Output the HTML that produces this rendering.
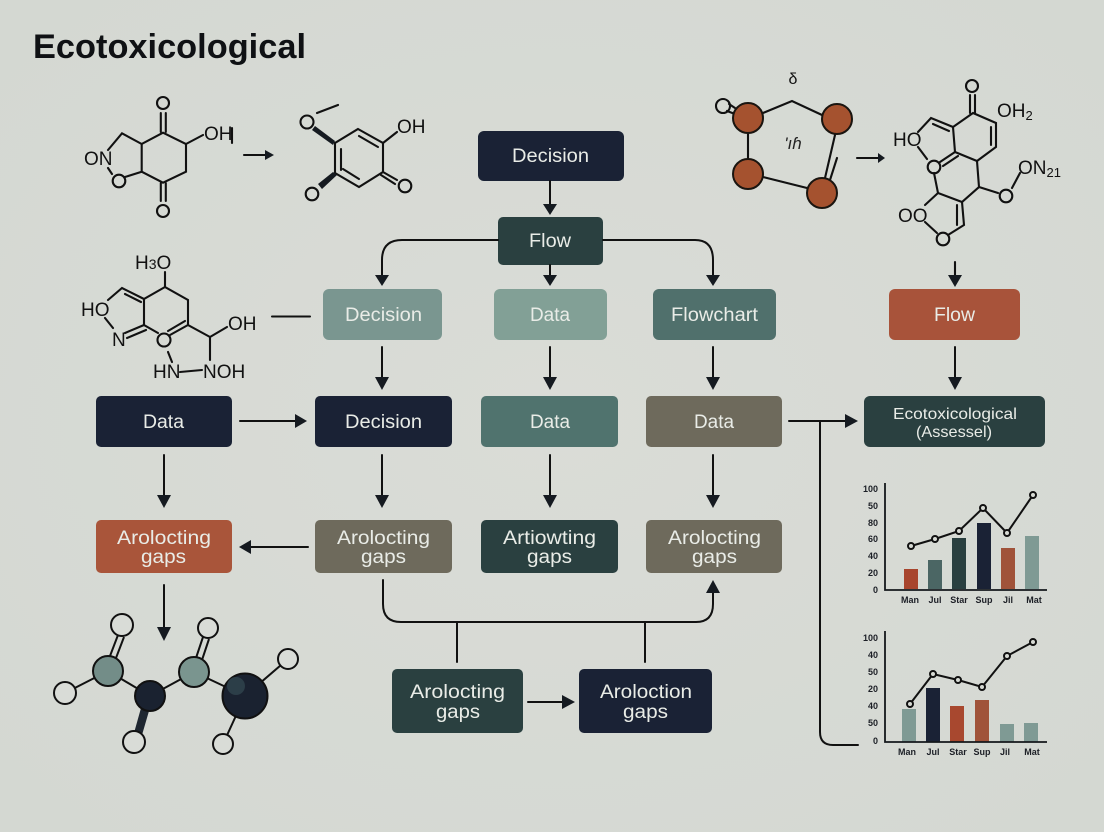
<!DOCTYPE html>
<html><head><meta charset="utf-8"><style>
html,body{margin:0;padding:0;background:#d7dad4}
svg{display:block}
text{font-family:"Liberation Sans",sans-serif}
.b{fill:#e9ece7;font-size:19px;text-anchor:middle}
.c{fill:#111;font-size:19px}
.l{stroke:#111;stroke-width:2;fill:none;stroke-linecap:round}
.m{stroke:#111;stroke-width:2.1;fill:none;stroke-linecap:round}
.k{fill:#151a20;stroke:none}
.ax{fill:#1c1f26;font-size:9px;font-weight:bold;text-anchor:end}
.ay{fill:#1c1f26;font-size:9px;font-weight:bold;text-anchor:middle}
.pt{fill:#d7dad4;stroke:#111;stroke-width:2}
</style></head><body>
<svg width="1104" height="832" viewBox="0 0 1104 832" xmlns="http://www.w3.org/2000/svg">
<defs><radialGradient id="bg" cx="50%" cy="50%" r="70%"><stop offset="0" stop-color="#dadcd7"/><stop offset="1" stop-color="#d4d8d2"/></radialGradient></defs>
<rect width="1104" height="832" fill="url(#bg)"/>
<text x="33" y="58" font-size="34" font-weight="bold" fill="#0f1114" textLength="273" lengthAdjust="spacingAndGlyphs">Ecotoxicological</text>

<!-- molecule 1 -->
<g class="m">
<path d="M163 132.7L186 144V171.7L163 182.7L141.7 171.7V144Z"/>
<path d="M160.8 113V132M165.8 113V132M160.8 183V201M165.8 183V201"/>
<path d="M186 144L203 135M141.7 144L122 133.3L108 150M108 168L112 174M125 177L141.7 171.7"/>
<circle cx="163" cy="103" r="6"/><circle cx="163" cy="211" r="6"/><circle cx="119" cy="181" r="6.3"/>
<path d="M244 155H266"/>
</g>
<path class="k" d="M265 150L274 155L265 160Z"/>
<text class="c" x="204" y="140">OH</text><path class="m" d="M232 128V143"/>
<text class="c" x="84" y="165">ON</text>

<!-- molecule 2 -->
<g class="m">
<path d="M358 129L383 143V172L359 187L335 173V143Z"/>
<path d="M359 136L378 147M341 149V170M343 169L359 179"/>
<path d="M317 113L338 105M383 143L397 132M383 172L397 180M381 175L395 184"/>
<circle cx="307" cy="122" r="6.5"/><circle cx="312" cy="194" r="6.3"/><circle cx="405" cy="186" r="6.3"/>
</g>
<path class="k" d="M315 126L335 141L333 145L312 130Z"/>
<path class="k" d="M333 172L337 175L322 189L318 184Z"/>
<text class="c" x="397" y="133">OH</text>

<!-- molecule 3 -->
<g class="m">
<path d="M165 272V287L188 300V325L210 337M165 287L144 299V325L158 333M144 299L122 288L108 300"/>
<path d="M125 294L141 302M105 318L113 328M125 333L144 325M127 338L146 330"/>
<path d="M188 325L170 335M185 321L168 331"/>
<path d="M210 337L227 327M210 337V360M168 352L172 362M180 372L202 370"/>
<circle cx="164" cy="340" r="6.5"/>
<path d="M272 316.5H310"/>
</g>
<text x="135" y="269" font-size="19" fill="#111">H<tspan font-size="14">3</tspan>O</text>
<text class="c" x="81" y="316">HO</text>
<text class="c" x="112" y="346">N</text>
<text class="c" x="228" y="330">OH</text>
<text class="c" x="153" y="378">HN</text>
<text class="c" x="203" y="378">NOH</text>

<!-- molecule brown -->
<g class="m">
<path d="M763 113L792 101L822 115M748 134V158M763 177L807 188M835 135L825 178M837 158L830 180"/>
<circle cx="723" cy="106" r="7" fill="#d7dad4"/>
<path d="M729 104L735 108M727 111L735 114"/>
</g>
<g fill="#a5522f" stroke="#1a1510" stroke-width="2">
<circle cx="748" cy="118" r="15"/><circle cx="837" cy="119" r="15"/><circle cx="748" cy="174" r="15"/><circle cx="822" cy="193" r="15"/>
</g>
<text x="793" y="84" font-size="16" fill="#111" text-anchor="middle">δ</text>
<text x="793" y="149" font-size="17" fill="#222" text-anchor="middle" font-style="italic">'ıɦ</text>
<g class="m"><path d="M857 158H879"/></g>
<path class="k" d="M878 153L885 158L878 163Z"/>

<!-- molecule 4 -->
<g class="m">
<circle cx="972" cy="86" r="6"/>
<path d="M970 95V113M975 95V113"/>
<path d="M973 113L996 123V147L977 161L955 152L953 127L973 113"/>
<path d="M991 127V145M953 127L931 118L918 132M933 124L949 131M918 147L927 159M955 152L940 162M958 156L943 166"/>
<circle cx="934" cy="167" r="6.3"/>
<path d="M934 173L938 193L962 202L979 187L977 161M979 187L998 193M1012 188L1020 173"/>
<circle cx="1006" cy="196" r="6.3"/>
<path d="M962 202L964 225L948 235M957 205V225M937 233L925 222M938 193L925 205"/>
<circle cx="943" cy="239" r="6.3"/>
<path d="M955 262V278"/>
</g>
<text class="c" x="997" y="117">OH<tspan font-size="13" dy="3">2</tspan></text>
<text class="c" x="893" y="146">HO</text>
<text class="c" x="898" y="222">OO</text>
<text class="c" x="1018" y="174">ON<tspan font-size="13" dy="3">21</tspan></text>

<!-- boxes -->
<g>
<rect x="478" y="131" width="146" height="50" rx="6" fill="#1a2235"/>
<rect x="498" y="217" width="105" height="48" rx="5" fill="#2a4040"/>
<rect x="323" y="289" width="119" height="51" rx="6" fill="#7a9690"/>
<rect x="494" y="289" width="113" height="51" rx="6" fill="#82a096"/>
<rect x="653" y="289" width="123" height="51" rx="6" fill="#50706c"/>
<rect x="889" y="289" width="131" height="51" rx="6" fill="#a8533a"/>
<rect x="96" y="396" width="136" height="51" rx="5" fill="#1a2235"/>
<rect x="315" y="396" width="137" height="51" rx="5" fill="#1a2235"/>
<rect x="481" y="396" width="137" height="51" rx="5" fill="#50736e"/>
<rect x="646" y="396" width="136" height="51" rx="5" fill="#6e6a5c"/>
<rect x="864" y="396" width="181" height="51" rx="6" fill="#2a4040"/>
<rect x="96" y="520" width="136" height="53" rx="5" fill="#a9553a"/>
<rect x="315" y="520" width="137" height="53" rx="5" fill="#6e6a5c"/>
<rect x="481" y="520" width="137" height="53" rx="5" fill="#2a4040"/>
<rect x="646" y="520" width="136" height="53" rx="5" fill="#6e6a5c"/>
<rect x="392" y="669" width="131" height="64" rx="5" fill="#2a4040"/>
<rect x="579" y="669" width="133" height="64" rx="5" fill="#1a2235"/>
</g>
<g class="b">
<text x="550.5" y="162" textLength="77" lengthAdjust="spacingAndGlyphs">Decision</text>
<text x="550" y="247" textLength="42" lengthAdjust="spacingAndGlyphs">Flow</text>
<text x="383.5" y="321" textLength="77" lengthAdjust="spacingAndGlyphs">Decision</text>
<text x="550" y="321" textLength="40" lengthAdjust="spacingAndGlyphs">Data</text>
<text x="714.5" y="321" textLength="87" lengthAdjust="spacingAndGlyphs">Flowchart</text>
<text x="954.5" y="321" textLength="41" lengthAdjust="spacingAndGlyphs">Flow</text>
<text x="163.5" y="428" textLength="41" lengthAdjust="spacingAndGlyphs">Data</text>
<text x="383.5" y="428" textLength="77" lengthAdjust="spacingAndGlyphs">Decision</text>
<text x="550" y="428" textLength="40" lengthAdjust="spacingAndGlyphs">Data</text>
<text x="714" y="428" textLength="40" lengthAdjust="spacingAndGlyphs">Data</text>
<text x="955" y="419" font-size="16" style="font-size:16px" textLength="124" lengthAdjust="spacingAndGlyphs">Ecotoxicological</text>
<text x="954" y="437" style="font-size:16px" textLength="76" lengthAdjust="spacingAndGlyphs">(Assessel)</text>
<text x="164" y="544" textLength="94" lengthAdjust="spacingAndGlyphs">Arolocting</text>
<text x="163.5" y="563" textLength="45" lengthAdjust="spacingAndGlyphs">gaps</text>
<text x="383.5" y="544" textLength="93" lengthAdjust="spacingAndGlyphs">Arolocting</text>
<text x="383.5" y="563" textLength="45" lengthAdjust="spacingAndGlyphs">gaps</text>
<text x="549.5" y="544" textLength="93" lengthAdjust="spacingAndGlyphs">Artiowting</text>
<text x="549.5" y="563" textLength="45" lengthAdjust="spacingAndGlyphs">gaps</text>
<text x="714.5" y="544" textLength="93" lengthAdjust="spacingAndGlyphs">Arolocting</text>
<text x="714.5" y="563" textLength="45" lengthAdjust="spacingAndGlyphs">gaps</text>
<text x="457.5" y="698" textLength="95" lengthAdjust="spacingAndGlyphs">Arolocting</text>
<text x="458" y="718" textLength="44" lengthAdjust="spacingAndGlyphs">gaps</text>
<text x="646" y="698" textLength="92" lengthAdjust="spacingAndGlyphs">Aroloction</text>
<text x="645.5" y="718" textLength="45" lengthAdjust="spacingAndGlyphs">gaps</text>
</g>

<!-- connectors -->
<g class="l">
<path d="M550 181V205"/>
<path d="M498 240H402Q382 240 382 260V276"/>
<path d="M603 240H695Q713 240 713 260V276"/>
<path d="M550 265V276"/>
<path d="M382 347V378M550 347V378M713 347V378M955 347V378"/>
<path d="M240 421H296M789 421H846"/>
<path d="M820 421V732Q820 745 833 745H858"/>
<path d="M164 455V496M382 455V496M550 455V496M713 455V496"/>
<path d="M308 547H250"/>
<path d="M383 580V604Q383 622 401 622H696Q713 622 713 604V592"/>
<path d="M457 622V662M645 622V662"/>
<path d="M528 702H563"/>
<path d="M164 585V628"/>
</g>
<g class="k">
<path d="M543 204H557L550 215Z"/>
<path d="M375 275H389L382 286Z"/><path d="M543 275H557L550 286Z"/><path d="M706 275H720L713 286Z"/><path d="M948 275H962L955 287Z"/>
<path d="M375 377H389L382 390Z"/><path d="M543 377H557L550 390Z"/><path d="M706 377H720L713 390Z"/><path d="M948 377H962L955 390Z"/>
<path d="M295 414V428L307 421Z"/><path d="M845 414V428L858 421Z"/>
<path d="M157 495H171L164 508Z"/><path d="M375 495H389L382 508Z"/><path d="M543 495H557L550 508Z"/><path d="M706 495H720L713 508Z"/>
<path d="M251 540V554L239 547Z"/>
<path d="M706 593H720L713 580Z"/>
<path d="M562 695V709L575 702Z"/>
<path d="M157 627H171L164 641Z"/>
</g>

<!-- ball and stick -->
<g stroke="#111" stroke-width="2" fill="none">
<path d="M108 671L65 693M108 671L150 696L194 672L245 696L288 659M245 696L223 744"/>
<path d="M110 656L118 635M116 658L124 637M196 658L203 637M202 660L209 639"/>
</g>
<path d="M141 708L149 711L142 735L134 733Z" fill="#1e2630"/>
<g stroke="#111" stroke-width="2">
<circle cx="122" cy="625" r="11" fill="#d9dcd7"/>
<circle cx="65" cy="693" r="11" fill="#d9dcd7"/>
<circle cx="134" cy="742" r="11" fill="#d9dcd7"/>
<circle cx="208" cy="628" r="10" fill="#d9dcd7"/>
<circle cx="288" cy="659" r="10" fill="#d9dcd7"/>
<circle cx="223" cy="744" r="10" fill="#d9dcd7"/>
<circle cx="108" cy="671" r="15" fill="#738d88"/>
<circle cx="194" cy="672" r="15" fill="#7a958f"/>
<circle cx="150" cy="696" r="15" fill="#1a2230"/>
<circle cx="245" cy="696" r="22.5" fill="#1a2230"/>
</g>
<circle cx="236" cy="686" r="9" fill="#2c3e48"/>

<!-- chart 1 -->
<g>
<rect x="904" y="569" width="14" height="20" fill="#a8452d"/>
<rect x="928" y="560" width="14" height="29" fill="#4b6664"/>
<rect x="952" y="538" width="14" height="51" fill="#2a4040"/>
<rect x="977" y="523" width="14" height="66" fill="#1a2235"/>
<rect x="1001" y="548" width="14" height="41" fill="#a0533a"/>
<rect x="1025" y="536" width="14" height="53" fill="#7f9a94"/>
<path d="M885 483V590H1047" stroke="#15181c" stroke-width="1.8" fill="none"/>
<path d="M911 546L935 539L959 531L983 508L1007 533L1033 495" stroke="#111" stroke-width="2" fill="none"/>
<g class="pt"><circle cx="911" cy="546" r="3"/><circle cx="935" cy="539" r="3"/><circle cx="959" cy="531" r="3"/><circle cx="983" cy="508" r="3"/><circle cx="1007" cy="533" r="3"/><circle cx="1033" cy="495" r="3"/></g>
<g class="ax"><text x="878" y="492">100</text><text x="878" y="509">50</text><text x="878" y="526">80</text><text x="878" y="542">60</text><text x="878" y="559">40</text><text x="878" y="576">20</text><text x="878" y="593">0</text></g>
<g class="ay"><text x="910" y="603">Man</text><text x="935" y="603">Jul</text><text x="959" y="603">Star</text><text x="984" y="603">Sup</text><text x="1008" y="603">Jil</text><text x="1034" y="603">Mat</text></g>
</g>

<!-- chart 2 -->
<g>
<rect x="902" y="709" width="14" height="33" fill="#7f9a94"/>
<rect x="926" y="688" width="14" height="54" fill="#1a2235"/>
<rect x="950" y="706" width="14" height="36" fill="#a8482f"/>
<rect x="975" y="700" width="14" height="42" fill="#a0533a"/>
<rect x="1000" y="724" width="14" height="18" fill="#7f9a94"/>
<rect x="1024" y="723" width="14" height="19" fill="#7f9a94"/>
<path d="M885 631V742H1047" stroke="#15181c" stroke-width="1.8" fill="none"/>
<path d="M910 704L933 674L958 680L982 687L1007 656L1033 642" stroke="#111" stroke-width="2" fill="none"/>
<g class="pt"><circle cx="910" cy="704" r="3"/><circle cx="933" cy="674" r="3"/><circle cx="958" cy="680" r="3"/><circle cx="982" cy="687" r="3"/><circle cx="1007" cy="656" r="3"/><circle cx="1033" cy="642" r="3"/></g>
<g class="ax"><text x="878" y="641">100</text><text x="878" y="658">40</text><text x="878" y="675">50</text><text x="878" y="692">20</text><text x="878" y="709">40</text><text x="878" y="726">50</text><text x="878" y="744">0</text></g>
<g class="ay"><text x="907" y="755">Man</text><text x="933" y="755">Jul</text><text x="958" y="755">Star</text><text x="982" y="755">Sup</text><text x="1005" y="755">Jil</text><text x="1032" y="755">Mat</text></g>
</g>
</svg>
</body></html>
